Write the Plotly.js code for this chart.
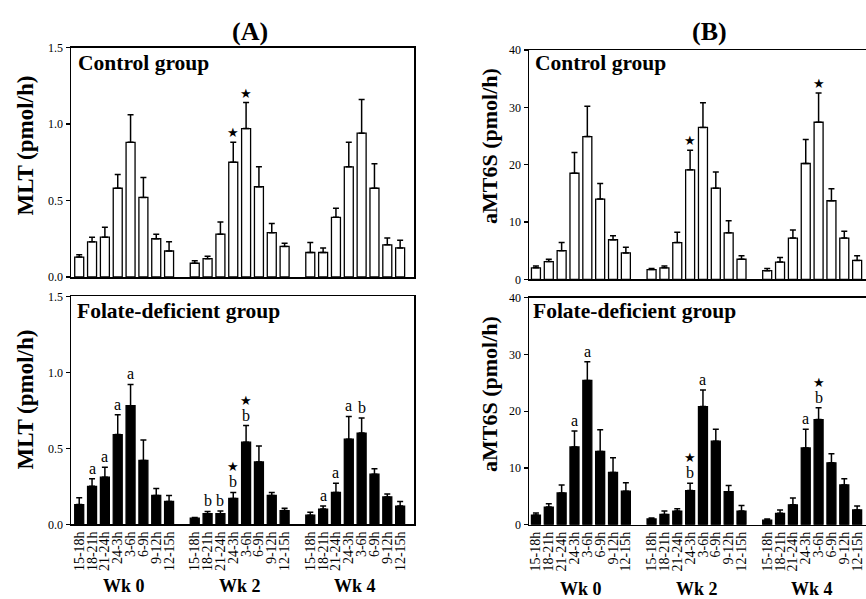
<!DOCTYPE html>
<html><head><meta charset="utf-8">
<script src="https://cdn.plot.ly/plotly-3.0.1.min.js"></script>
<style>html,body{margin:0;padding:0;background:#fff}#chart{width:866px;height:599px}</style>
</head><body><div id="chart"></div>
<script>
// ---------- data ----------
const timeSlots = ['15-18h','18-21h','21-24h','24-3h','3-6h','6-9h','9-12h','12-15h'];
const weeks = ['Wk 0','Wk 2','Wk 4'];

const mltControl    = [0.13,0.23,0.26,0.58,0.88,0.52,0.25,0.17, 0.09,0.12,0.28,0.75,0.97,0.59,0.29,0.20, 0.16,0.16,0.39,0.72,0.94,0.58,0.21,0.19];
const mltControlErr = [0.015,0.03,0.065,0.09,0.18,0.13,0.03,0.06, 0.017,0.015,0.08,0.13,0.17,0.13,0.06,0.02, 0.065,0.03,0.06,0.16,0.22,0.16,0.045,0.05];
const mltControlMarks = ['','','','','','','','', '','','','*','*','','','', '','','','','','','',''];

const mltFolate    = [0.13,0.25,0.31,0.59,0.78,0.42,0.19,0.15, 0.04,0.07,0.07,0.17,0.54,0.41,0.19,0.09, 0.06,0.10,0.21,0.56,0.60,0.33,0.18,0.12];
const mltFolateErr = [0.045,0.05,0.065,0.13,0.14,0.135,0.045,0.04, 0.004,0.015,0.017,0.04,0.11,0.105,0.02,0.015, 0.02,0.02,0.06,0.15,0.10,0.035,0.02,0.03];
const mltFolateMarks = ['','a','a','a','a','','','', '','b','b','*b','*b','','','', '','a','a','a','b','','',''];

const amtControl    = [2.0,3.1,5.0,18.5,24.9,14.0,6.9,4.6, 1.7,2.0,6.4,19.1,26.5,15.9,8.1,3.5, 1.5,3.0,7.2,20.2,27.4,13.7,7.2,3.3];
const amtControlErr = [0.3,0.4,1.4,3.6,5.3,2.7,0.7,1.0, 0.2,0.3,1.8,3.4,4.3,2.8,2.1,0.6, 0.4,0.8,1.4,4.2,5.1,2.1,1.2,0.8];
const amtControlMarks = ['','','','','','','','', '','','','*','','','','', '','','','','*','','',''];

const amtFolate    = [1.7,3.1,5.6,13.7,25.4,12.9,9.2,5.9, 1.0,1.8,2.4,6.0,20.8,14.7,5.8,2.4, 0.8,2.0,3.5,13.5,18.5,10.9,7.0,2.6];
const amtFolateErr = [0.35,0.6,1.4,2.8,3.3,3.8,2.6,1.5, 0.2,0.6,0.4,1.3,2.9,2.1,1.1,1.0, 0.2,0.6,1.2,3.3,2.1,1.6,1.1,0.7];
const amtFolateMarks = ['','','','a','a','','','', '','','','*b','a','','','', '','','','a','*b','','',''];

// ---------- build ----------
const SERIF = 'Liberation Serif, Times New Roman, serif';
const xpos = [], xlabels = [];
weeks.forEach((w, g) => timeSlots.forEach((t, i) => { xpos.push(g * 9 + i); xlabels.push(t); }));
const groupCenters = weeks.map((w, g) => g * 9 + 3.5);

function barTrace(vals, errs, xa, ya, fill) {
  return {
    type: 'bar', x: xpos, y: vals, xaxis: xa, yaxis: ya, width: 0.7,
    marker: { color: fill, line: { color: '#000', width: 1.3 } },
    error_y: { type: 'data', symmetric: false, array: errs, arrayminus: errs.map(() => 0),
               color: '#000', thickness: 1.5, width: 3 },
    hoverinfo: 'none'
  };
}

const data = [
  barTrace(mltControl, mltControlErr, 'x', 'y', '#fff'),
  barTrace(amtControl, amtControlErr, 'x2', 'y2', '#fff'),
  barTrace(mltFolate, mltFolateErr, 'x3', 'y3', '#000'),
  barTrace(amtFolate, amtFolateErr, 'x4', 'y4', '#000')
];

const annotations = [];
function addMarks(vals, errs, marks, xa, ya) {
  marks.forEach((m, k) => {
    if (!m) return;
    const top = vals[k] + errs[k];
    const letter = m.replace('*', '');
    if (letter) {
      annotations.push({ xref: xa, yref: ya, x: xpos[k], y: top, text: letter, showarrow: false,
        xanchor: 'center', yanchor: 'bottom', yshift: 0, font: { family: SERIF, size: 16, color: '#000' } });
    }
    if (m.indexOf('*') >= 0) {
      annotations.push({ xref: xa, yref: ya, x: xpos[k], y: top, text: '★', showarrow: false,
        xanchor: 'center', yanchor: 'bottom', yshift: letter ? 16 : 0, font: { family: 'DejaVu Sans', size: 13, color: '#000' } });
    }
  });
}
addMarks(mltControl, mltControlErr, mltControlMarks, 'x', 'y');
addMarks(amtControl, amtControlErr, amtControlMarks, 'x2', 'y2');
addMarks(mltFolate, mltFolateErr, mltFolateMarks, 'x3', 'y3');
addMarks(amtFolate, amtFolateErr, amtFolateMarks, 'x4', 'y4');

function txt(x, y, text, size, extra) {
  return Object.assign({ xref: 'paper', yref: 'paper', x: x / 866, y: 1 - y / 599, text: text, showarrow: false,
    xanchor: 'center', yanchor: 'middle',
    font: { family: SERIF, size: size, color: '#000' } }, extra || {});
}
annotations.push(txt(250, 31, '<b>(A)</b>', 26));
annotations.push(txt(709, 31, '<b>(B)</b>', 26));
annotations.push(txt(24.5, 146, '<b>MLT (pmol/h)</b>', 23, { textangle: -90 }));
annotations.push(txt(24.5, 400, '<b>MLT (pmol/h)</b>', 23, { textangle: -90 }));
annotations.push(txt(489, 146, '<b>aMT6S (pmol/h)</b>', 22, { textangle: -90 }));
annotations.push(txt(489, 394, '<b>aMT6S (pmol/h)</b>', 22, { textangle: -90 }));
annotations.push(txt(76, 63, '<b>Control group</b>', 21.5, { xanchor: 'left' }));
annotations.push(txt(533, 63, '<b>Control group</b>', 21.5, { xanchor: 'left' }));
annotations.push(txt(75, 311, '<b>Folate-deficient group</b>', 21.5, { xanchor: 'left' }));
annotations.push(txt(531, 311, '<b>Folate-deficient group</b>', 21.5, { xanchor: 'left' }));
weeks.forEach((w, g) => {
  annotations.push({ xref: 'x3', yref: 'paper', x: groupCenters[g], y: 1 - 586 / 599, text: '<b>' + w + '</b>',
    showarrow: false, xanchor: 'center', yanchor: 'middle', font: { family: SERIF, size: 18, color: '#000' } });
  annotations.push({ xref: 'x4', yref: 'paper', x: groupCenters[g], y: 1 - 589 / 599, text: '<b>' + w + '</b>',
    showarrow: false, xanchor: 'center', yanchor: 'middle', font: { family: SERIF, size: 18, color: '#000' } });
});

const lineStyle = { showline: true, linecolor: '#000', linewidth: 1.5, showgrid: false, zeroline: false };
const xA = [71 / 866, 414 / 866], xB = [529 / 866, 1];
const rangeA = [-0.64, 26.08], rangeB = [-0.54, 25.69];
const tickFont = { family: SERIF, size: 12, color: '#000' };
function xax(domain, range, anchor, labels) {
  return Object.assign({}, lineStyle, { domain: domain, range: range, anchor: anchor, mirror: true,
    ticks: '', tickmode: 'array', tickvals: xpos, ticktext: xlabels, showticklabels: labels,
    tickangle: -90, tickfont: { family: SERIF, size: 14, color: '#000' } });
}
function yax(domain, range, anchor, vals, texts, mirror) {
  return Object.assign({}, lineStyle, { domain: domain, range: range, anchor: anchor, mirror: mirror,
    ticks: 'outside', ticklen: 4, tickwidth: 1.2, tickcolor: '#000', tickmode: 'array', tickvals: vals, ticktext: texts,
    tickfont: tickFont });
}
const mltTicks = [0, 0.5, 1, 1.5], mltText = ['0.0', '0.5', '1.0', '1.5'];
const amtTicks = [0, 10, 20, 30, 40], amtText = ['0', '10', '20', '30', '40'];

const layout = {
  width: 866, height: 599, margin: { l: 0, r: 0, t: 0, b: 0 },
  paper_bgcolor: '#fff', plot_bgcolor: '#fff', showlegend: false, bargap: 0,
  xaxis: xax(xA, rangeA, 'y', false),
  yaxis: yax([1 - 277 / 599, 1 - 47.5 / 599], [0, 1.5], 'x', mltTicks, mltText, true),
  xaxis2: xax(xB, rangeB, 'y2', false),
  yaxis2: yax([1 - 279.3 / 599, 1 - 50 / 599], [0, 40], 'x2', amtTicks, amtText, false),
  xaxis3: xax(xA, rangeA, 'y3', true),
  yaxis3: yax([1 - 524.3 / 599, 1 - 296.3 / 599], [0, 1.5], 'x3', mltTicks, mltText, true),
  xaxis4: xax(xB, rangeB, 'y4', true),
  yaxis4: yax([1 - 524.7 / 599, 1 - 297.5 / 599], [0, 40], 'x4', amtTicks, amtText, false),
  annotations: annotations
};

Plotly.newPlot('chart', data, layout, { staticPlot: true, displayModeBar: false });
</script></body></html>
